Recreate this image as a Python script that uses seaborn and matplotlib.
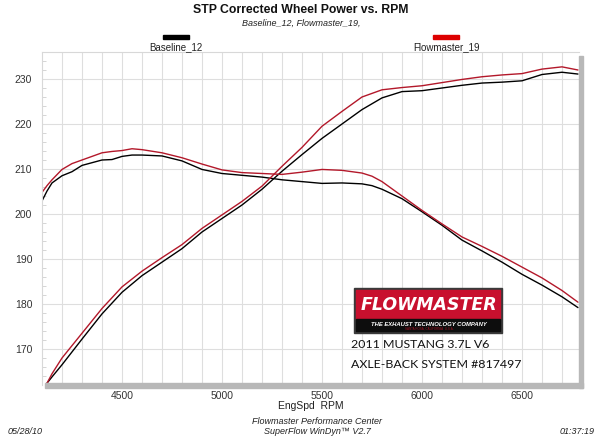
import numpy as np
import pandas as pd
import matplotlib
matplotlib.use("Agg")
import matplotlib.pyplot as plt
from matplotlib.patches import Rectangle
import seaborn as sns

# --- data ---
rpm_tq = [4100, 4125, 4150, 4200, 4250, 4300, 4400, 4450, 4500, 4550, 4600, 4700,
          4800, 4900, 5000, 5100, 5200, 5300, 5400, 5500, 5600, 5700, 5750, 5800,
          5900, 6000, 6100, 6200, 6300, 6400, 6500, 6600, 6700, 6780]
tq_base = [202.9, 205.1, 206.9, 208.5, 209.4, 210.8, 212.0, 212.1, 212.8, 213.1, 213.1, 212.9,
           211.8, 209.9, 209.0, 208.6, 208.2, 207.6, 207.2, 206.8, 206.9, 206.7, 206.3, 205.5,
           203.4, 200.5, 197.5, 194.2, 191.8, 189.3, 186.6, 184.2, 181.6, 179.2]
tq_fm = [204.8, 206.3, 207.6, 209.9, 211.2, 212.0, 213.6, 213.9, 214.1, 214.5, 214.3, 213.6,
         212.5, 211.1, 209.8, 209.2, 209.0, 208.8, 209.3, 209.9, 209.7, 209.1, 208.4, 207.2,
         204.0, 200.8, 197.8, 194.9, 192.8, 190.6, 188.2, 185.8, 183.0, 180.4]

rpm_hp = [4125, 4150, 4200, 4300, 4400, 4500, 4600, 4700, 4800, 4900, 5000, 5100, 5200,
          5300, 5400, 5500, 5600, 5700, 5800, 5900, 6000, 6100, 6200, 6300, 6400, 6500,
          6600, 6700, 6780]
hp_base = [162.4, 163.8, 166.5, 172.2, 177.8, 182.6, 186.3, 189.3, 192.3, 196.0, 199.0, 202.0, 205.5,
           209.5, 213.2, 216.8, 220.0, 223.2, 225.8, 227.2, 227.4, 228.0, 228.6, 229.1, 229.3, 229.6,
           231.0, 231.5, 231.1]
hp_fm = [162.4, 164.5, 168.0, 173.5, 179.0, 183.8, 187.3, 190.3, 193.2, 196.8, 199.8, 202.8, 206.2,
         210.6, 214.8, 219.5, 222.8, 226.0, 227.6, 228.1, 228.5, 229.2, 229.9, 230.5, 230.9, 231.2,
         232.2, 232.7, 232.0]

runs = ["Baseline_12", "Flowmaster_19"]
x_ticks = [4500, 5000, 5500, 6000, 6500]
y_ticks = [170, 180, 190, 200, 210, 220, 230]

frames = []
for run, tq, hp in [(runs[0], tq_base, hp_base), (runs[1], tq_fm, hp_fm)]:
    frames.append(pd.DataFrame({"rpm": rpm_tq, "value": tq, "run": run, "curve": run + "_tq"}))
    frames.append(pd.DataFrame({"rpm": rpm_hp, "value": hp, "run": run, "curve": run + "_hp"}))
df = pd.concat(frames, ignore_index=True)

sns.set_style("white")
plt.rcParams["font.family"] = ["Liberation Sans", "DejaVu Sans"]

W, H = 600, 437
fig = plt.figure(figsize=(6, 4.37), dpi=100)
ax = fig.add_axes([42 / W, 1 - 385 / H, (579 - 42) / W, (385 - 52) / H])

palette = {"Baseline_12": "#000000", "Flowmaster_19": "#b3182a"}
sns.lineplot(data=df, x="rpm", y="value", hue="run", units="curve",
             estimator=None, palette=palette, linewidth=1.0, legend=False, ax=ax)

ax.set_xlim(4100, 6785)
ax.set_ylim(162, 236)
ax.set_xticks(x_ticks)
ax.set_yticks(y_ticks)
ax.set_xticks(np.arange(4200, 6785, 100), minor=True)
ax.set_yticks(np.arange(164, 236, 2), minor=True)
ax.grid(which="major", axis="y", color="#dedede", linewidth=0.8)
ax.grid(which="both", axis="x", color="#dedede", linewidth=0.8)
ax.tick_params(axis="both", which="major", length=0, labelsize=7.5, labelcolor="#333333")
ax.tick_params(axis="x", which="major", pad=4)
ax.tick_params(axis="y", which="major", pad=7)
ax.tick_params(axis="y", which="minor", direction="in", length=3, color="#cfcfcf", left=True)
ax.tick_params(axis="x", which="minor", length=0)
ax.set_xlabel("EngSpd  RPM", fontsize=7.5, color="#222222", labelpad=0)
ax.set_ylabel("")
for side in ["left", "top"]:
    ax.spines[side].set_color("#d8d8d8")
    ax.spines[side].set_linewidth(0.8)
for side in ["right", "bottom"]:
    ax.spines[side].set_visible(False)

def fx(x):
    return x / W

def fy(y):
    return 1 - y / H

# grey bars along the bottom and right edges
fig.patches.append(Rectangle((fx(45), fy(388)), (583 - 45) / W, 5 / H,
                             transform=fig.transFigure, color="#b8b8b8", zorder=3))
fig.patches.append(Rectangle((fx(579), fy(388)), 4 / W, (388 - 56) / H,
                             transform=fig.transFigure, color="#b8b8b8", zorder=3))

# titles
fig.text(fx(301), fy(10), "STP Corrected Wheel Power vs. RPM", ha="center", va="center",
         fontsize=8.8, fontweight="bold", color="#111111")
fig.text(fx(301), fy(23), "Baseline_12, Flowmaster_19,", ha="center", va="center",
         fontsize=6.5, style="italic", color="#222222")

# legend at top
legend_pos = [(176, "#000000"), (446, "#dd0000")]
for (cx, col), run in zip(legend_pos, runs):
    fig.patches.append(Rectangle((fx(cx - 13), fy(39)), 26 / W, 4 / H,
                                 transform=fig.transFigure, color=col))
    fig.text(fx(cx), fy(47), run, ha="center", va="center", fontsize=7, color="#222222")

# footer
fig.text(fx(317), fy(422), "Flowmaster Performance Center", ha="center", va="center",
         fontsize=6.5, style="italic", color="#222222")
fig.text(fx(317), fy(432), "SuperFlow WinDyn\u2122 V2.7", ha="center", va="center",
         fontsize=6.5, style="italic", color="#222222")
fig.text(fx(8), fy(431), "05/28/10", ha="left", va="center", fontsize=6.5,
         style="italic", color="#222222")
fig.text(fx(595), fy(431), "01:37:19", ha="right", va="center", fontsize=6.5,
         style="italic", color="#222222")

# Flowmaster logo
fig.patches.append(Rectangle((fx(354), fy(333)), 148 / W, 45 / H,
                             transform=fig.transFigure, color="#3a3a3a", zorder=4))
fig.patches.append(Rectangle((fx(356), fy(319)), 144 / W, 29 / H,
                             transform=fig.transFigure, color="#c8102e", zorder=5))
fig.patches.append(Rectangle((fx(356), fy(331)), 144 / W, 12 / H,
                             transform=fig.transFigure, color="#0d0d0d", zorder=5))
fig.text(fx(429), fy(305), "FLOWMASTER", ha="center", va="center", fontsize=12.5,
         fontweight="bold", style="italic", color="white", zorder=6,
         family=["DejaVu Sans"])
fig.text(fx(429), fy(324), "THE EXHAUST TECHNOLOGY COMPANY", ha="center", va="center",
         fontsize=4.2, fontweight="bold", style="italic", color="white", zorder=6)
fig.text(fx(429), fy(329), "SANTA ROSA, CALIFORNIA  U.S.A.", ha="center", va="center",
         fontsize=2.2, color="#a01020", zorder=6)

fig.text(fx(351), fy(345), "2011 MUSTANG 3.7L V6", ha="left", va="center",
         fontsize=8.9, color="#111111", family=["Lato", "DejaVu Sans"])
fig.text(fx(351), fy(364), "AXLE-BACK SYSTEM #817497", ha="left", va="center",
         fontsize=8.9, color="#111111", family=["Lato", "DejaVu Sans"])

fig.savefig("out.png", dpi=100)
